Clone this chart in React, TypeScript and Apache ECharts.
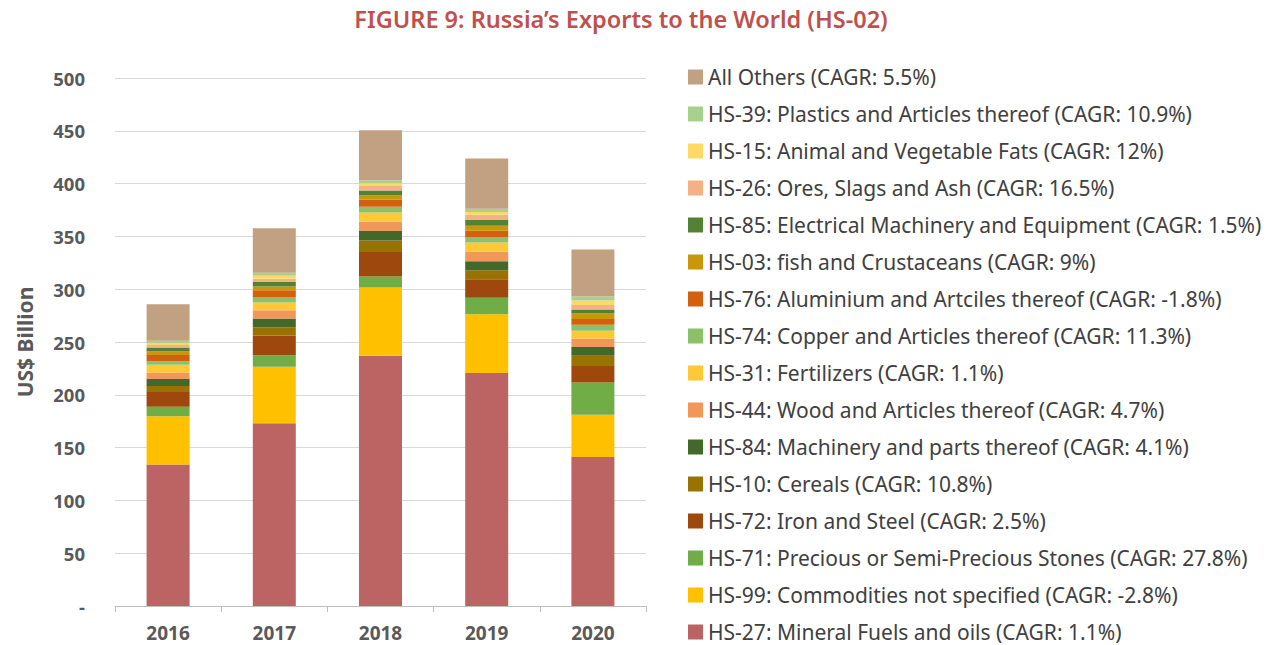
import React, { useEffect, useRef } from "react";
import * as echarts from "echarts";

const years = ["2016", "2017", "2018", "2019", "2020"];

// bottom to top
const seriesNames = [
  "HS-27: Mineral Fuels and oils (CAGR: 1.1%)",
  "HS-99: Commodities not specified (CAGR: -2.8%)",
  "HS-71: Precious or Semi-Precious Stones (CAGR: 27.8%)",
  "HS-72: Iron and Steel (CAGR: 2.5%)",
  "HS-10: Cereals (CAGR: 10.8%)",
  "HS-84: Machinery and parts thereof (CAGR: 4.1%)",
  "HS-44: Wood and Articles thereof (CAGR: 4.7%)",
  "HS-31: Fertilizers (CAGR: 1.1%)",
  "HS-74: Copper and Articles thereof (CAGR: 11.3%)",
  "HS-76: Aluminium and Artciles thereof (CAGR: -1.8%)",
  "HS-03: fish and Crustaceans (CAGR: 9%)",
  "HS-85: Electrical Machinery and Equipment (CAGR: 1.5%)",
  "HS-26: Ores, Slags and Ash (CAGR: 16.5%)",
  "HS-15: Animal and Vegetable Fats (CAGR: 12%)",
  "HS-39: Plastics and Articles thereof (CAGR: 10.9%)",
  "All Others (CAGR: 5.5%)",
];

const hs27 = [133.9, 173.1, 237.0, 220.6, 141.2];
const hs99 = [45.9, 53.5, 64.7, 55.7, 39.8];
const hs71 = [8.9, 10.8, 10.4, 15.5, 30.7];
const hs72 = [13.9, 18.7, 23.1, 17.7, 15.5];
const hs10 = [5.7, 7.9, 10.8, 8.5, 9.8];
const hs84 = [6.6, 8.2, 9.2, 8.5, 8.2];
const hs44 = [6.3, 7.9, 8.9, 8.9, 8.2];
const hs31 = [7.3, 7.3, 8.5, 8.9, 7.3];
const hs74 = [3.2, 4.7, 5.4, 5.1, 5.7];
const hs76 = [6.0, 7.0, 6.6, 6.0, 5.4];
const hs03 = [3.2, 3.5, 4.1, 4.7, 5.1];
const hs85 = [3.8, 4.1, 4.7, 5.4, 3.8];
const hs26 = [2.5, 3.2, 4.4, 5.1, 4.4];
const hs15 = [1.9, 2.8, 2.5, 2.5, 4.1];
const hs39 = [2.2, 2.8, 2.8, 3.2, 3.8];
const allOthers = [34.5, 42.1, 47.4, 47.4, 44.6];

const seriesData = [hs27, hs99, hs71, hs72, hs10, hs84, hs44, hs31, hs74, hs76, hs03, hs85, hs26, hs15, hs39, allOthers];

const colors = [
  "#BB6463", "#FFC000", "#70AD47", "#9E480E", "#997300", "#43682B", "#F1975A", "#FFC936",
  "#8CC168", "#D2600F", "#C9980A", "#548235", "#F4B183", "#FFD966", "#A9D18E", "#C2A182",
];

const yTicks = [0, 50, 100, 150, 200, 250, 300, 350, 400, 450, 500];

export default function App() {
  const ref = useRef<HTMLDivElement>(null);
  useEffect(() => {
    if (!ref.current) return;
    const chart = echarts.init(ref.current, undefined, { renderer: "svg" });
    const font = "'Noto Sans', 'Open Sans', sans-serif";
    chart.setOption({
      animation: false,
      textStyle: { fontFamily: font },
      title: {
        text: "FIGURE 9: Russia\u2019s Exports to the World (HS-02)",
        left: 616,
        textAlign: "center",
        top: 2,
        textStyle: { color: "#C0504D", fontSize: 23.5, fontWeight: 600, fontFamily: font },
      },
      grid: { left: 115, right: 628, top: 78, bottom: 39, containLabel: false },
      legend: {
        orient: "vertical",
        left: 683,
        top: 61,
        height: 600,
        data: seriesNames.slice().reverse(),
        itemWidth: 15,
        itemHeight: 15,
        itemGap: 15,
        icon: "rect",
        selectedMode: false,
        textStyle: { fontSize: 21, color: "#404040", lineHeight: 22, fontFamily: font },
      },
      xAxis: {
        type: "category",
        data: years,
        axisLine: { lineStyle: { color: "#BFBFBF" } },
        axisTick: { show: true, lineStyle: { color: "#BFBFBF" }, length: 6 },
        axisLabel: { fontSize: 19, fontWeight: "bold", color: "#595959", margin: 17, lineHeight: 19 },
      },
      yAxis: {
        type: "value",
        min: 0,
        max: 500,
        interval: 50,
        name: "US$ Billion",
        nameLocation: "middle",
        nameRotate: 90,
        nameGap: 80,
        nameTextStyle: { fontSize: 21, fontWeight: "bold", color: "#595959" },
        axisLine: { show: false },
        axisTick: { show: false },
        splitLine: { lineStyle: { color: "#D9D9D9", width: 1 } },
        axisLabel: {
          fontSize: 18.5,
          fontWeight: "bold",
          color: "#595959",
          margin: 30,
          formatter: (v: number) => (v === 0 ? "-" : String(v)),
          customValues: yTicks,
        },
      },
      series: seriesNames.map((name, i) => ({
        name,
        type: "bar",
        stack: "total",
        barWidth: 43,
        data: seriesData[i],
        itemStyle: { color: colors[i] },
      })),
    });
    return () => chart.dispose();
  }, []);
  return <div ref={ref} style={{ width: 1274, height: 645, margin: "-8px 0 0 -8px" }} />;
}
